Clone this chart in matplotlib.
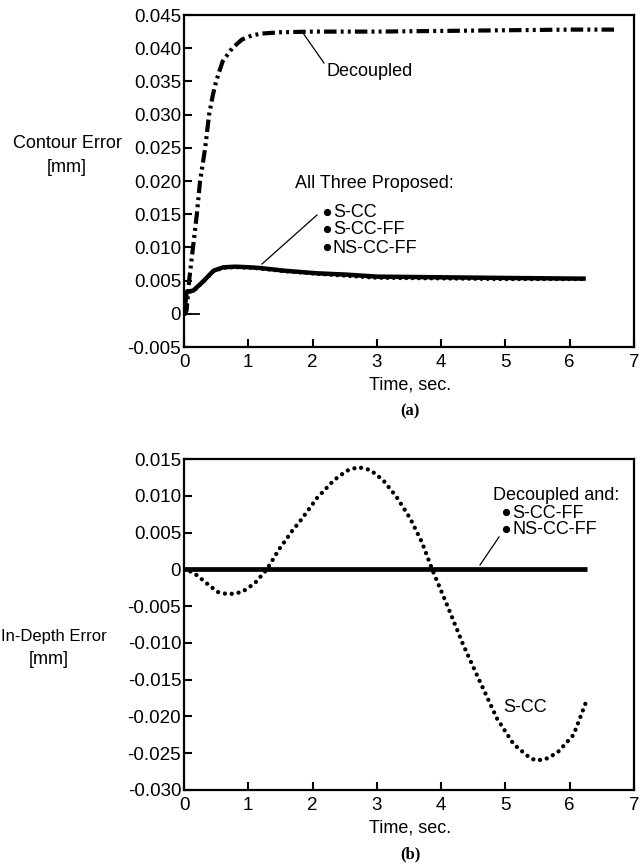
import matplotlib
matplotlib.use("Agg")
import matplotlib.pyplot as plt

plt.rcParams['font.family'] = ['Liberation Sans', 'DejaVu Sans']

# ---------------- data ----------------
# (a) contour error
dec_t = [0.0, 0.04, 0.08, 0.14, 0.20, 0.25, 0.33, 0.39, 0.45, 0.50, 0.60, 0.75,
         0.90, 1.05, 1.20, 1.50, 2.0, 3.0, 4.0, 5.0, 6.0, 6.7]
dec_v = [-0.0002, 0.0005, 0.005, 0.010, 0.015, 0.020, 0.025, 0.030, 0.0330, 0.0350,
         0.0380, 0.0400, 0.0413, 0.0419, 0.0422, 0.0424, 0.0425, 0.0425, 0.0426,
         0.0427, 0.0428, 0.0428]

prop_t = [0.0, 0.04, 0.145, 0.30, 0.46, 0.61, 0.80, 1.03, 1.18, 1.55, 2.07, 2.53,
          3.0, 4.0, 5.0, 6.17, 6.25]
prop_v = [0.0, 0.0033, 0.0035, 0.0049, 0.0065, 0.0070, 0.0071, 0.0070, 0.0069,
          0.0065, 0.0061, 0.0059, 0.0056, 0.0055, 0.0054, 0.0053, 0.0053]
prop2_v = [0.0, 0.0032, 0.0034, 0.0048, 0.0064, 0.0069, 0.0070, 0.0069, 0.0068,
           0.0064, 0.0060, 0.0057, 0.0054, 0.0053, 0.0052, 0.0052, 0.0052]

zero_t = [0.0, 0.24]
zero_v = [0.0, 0.0]

# (b) in-depth error
scc_t = [0.0, 0.04, 0.20, 0.38, 0.53, 0.69, 0.90, 1.10, 1.29, 1.47, 1.68, 1.81, 2.07,
         2.33, 2.53, 2.71, 2.90, 3.10, 3.31, 3.52, 3.70, 3.86, 4.09, 4.35, 4.61,
         4.87, 5.13, 5.39, 5.49, 5.65, 5.81, 6.06, 6.26]
scc_v = [0.0, 0.0, -0.0008, -0.0021, -0.0031, -0.0034, -0.0031, -0.0019, 0.0, 0.0026,
         0.0052, 0.0066, 0.0097, 0.0121, 0.0134, 0.0139, 0.0135, 0.0121, 0.0098,
         0.0069, 0.0037, 0.0, -0.0048, -0.0104, -0.0154, -0.0203, -0.0238, -0.0257,
         -0.0260, -0.0257, -0.0249, -0.0225, -0.0179]

ff_t = [0.0, 6.27]
ff_v = [0.0001, 0.0001]

top_yticks = [0.045, 0.040, 0.035, 0.030, 0.025, 0.020, 0.015, 0.010, 0.005, 0.0, -0.005]
top_ylabels = ["0.045", "0.040", "0.035", "0.030", "0.025", "0.020", "0.015", "0.010",
               "0.005", "0", "-0.005"]
bot_yticks = [0.015, 0.010, 0.005, 0.0, -0.005, -0.010, -0.015, -0.020, -0.025, -0.030]
bot_ylabels = ["0.015", "0.010", "0.005", "0", "-0.005", "-0.010", "-0.015", "-0.020",
               "-0.025", "-0.030"]
xticks = [0, 1, 2, 3, 4, 5, 6, 7]
xlabels = ["0", "1", "2", "3", "4", "5", "6", "7"]

# ---------------- figure ----------------
W, H = 644, 865
fig = plt.figure(figsize=(W / 100, H / 100), dpi=100)

def fx(px):
    return px / W

def fy(py):
    return 1 - py / H

FS = 13
TFS = 13.5
dashdotdot = (0, (3.0, 1.0, 0.7, 1.0, 0.7, 1.0))
dotted = (0, (0.01, 1.6))

def style_axes(ax, yticks, ylabels):
    ax.set_xlim(0, 7)
    ax.set_xticks(xticks)
    ax.set_xticklabels(xlabels)
    ax.set_yticks(yticks)
    ax.set_yticklabels(ylabels)
    ax.set_ylim(min(yticks), max(yticks))
    ax.tick_params(direction='in', length=6, width=1.5, labelsize=TFS,
                   top=False, right=False)
    ax.tick_params(axis='y', pad=2)
    ax.tick_params(axis='x', pad=5)
    for s in ax.spines.values():
        s.set_linewidth(1.6)

# (a)
ax1 = fig.add_axes([fx(184), fy(347), fx(634) - fx(184), fy(15) - fy(347)])
ax1.plot(dec_t, dec_v, color='black', lw=3.0, linestyle=dashdotdot, solid_capstyle='butt')
ax1.plot(prop_t, prop2_v, color='black', lw=2.8, linestyle=dotted, dash_capstyle='round')
ax1.plot(prop_t, prop_v, color='black', lw=3.2, solid_capstyle='butt')
ax1.plot(zero_t, zero_v, color='black', lw=1.3)
style_axes(ax1, top_yticks, top_ylabels)

# (b)
ax2 = fig.add_axes([fx(184), fy(790), fx(634) - fx(184), fy(459) - fy(790)])
ax2.plot(ff_t, ff_v, color='black', lw=3.4, solid_capstyle='butt')
ax2.plot(scc_t, scc_v, color='black', lw=3.1, linestyle=dotted, dash_capstyle='round')
style_axes(ax2, bot_yticks, bot_ylabels)

# axis titles
fig.text(fx(67), fy(143), "Contour Error", ha='center', va='center', fontsize=FS)
fig.text(fx(67), fy(167), "[mm]", ha='center', va='center', fontsize=FS)
fig.text(fx(54), fy(637), "In-Depth Error", ha='center', va='center', fontsize=12)
fig.text(fx(49), fy(660), "[mm]", ha='center', va='center', fontsize=FS)
fig.text(fx(410), fy(385), "Time, sec.", ha='center', va='center', fontsize=FS)
fig.text(fx(410), fy(828), "Time, sec.", ha='center', va='center', fontsize=FS)
fig.text(fx(410), fy(411), "(a)", ha='center', va='center', fontsize=12,
         family=['Liberation Serif'], weight='bold')
fig.text(fx(410), fy(854), "(b)", ha='center', va='center', fontsize=12,
         family=['Liberation Serif'], weight='bold')

def bullet(px, py):
    fig.add_artist(plt.Line2D([fx(px)], [fy(py)], marker='o', ms=4.2,
                              color='black', linestyle='none'))

# annotations (a)
fig.text(fx(326), fy(71), "Decoupled", ha='left', va='center', fontsize=FS)
fig.add_artist(plt.Line2D([fx(303), fx(324)], [fy(33), fy(63)], color='black', lw=0.9))
fig.text(fx(374), fy(183), "All Three Proposed:", ha='center', va='center', fontsize=FS)
for yy, lab in [(213, "S-CC"), (230, "S-CC-FF"), (248, "NS-CC-FF")]:
    bullet(327, yy - 1)
    fig.text(fx(333), fy(yy), lab, ha='left', va='center', fontsize=FS)
fig.add_artist(plt.Line2D([fx(317), fx(262)], [fy(215), fy(264)], color='black', lw=0.9))

# annotations (b)
fig.text(fx(619), fy(495), "Decoupled and:", ha='right', va='center', fontsize=FS)
for yy, lab in [(513, "S-CC-FF"), (530, "NS-CC-FF")]:
    bullet(506, yy - 1)
    fig.text(fx(512), fy(yy), lab, ha='left', va='center', fontsize=FS)
fig.add_artist(plt.Line2D([fx(499), fx(480)], [fy(537), fy(565)], color='black', lw=0.9))
fig.text(fx(503), fy(707), "S-CC", ha='left', va='center', fontsize=FS)

fig.savefig("out.png", dpi=100)
